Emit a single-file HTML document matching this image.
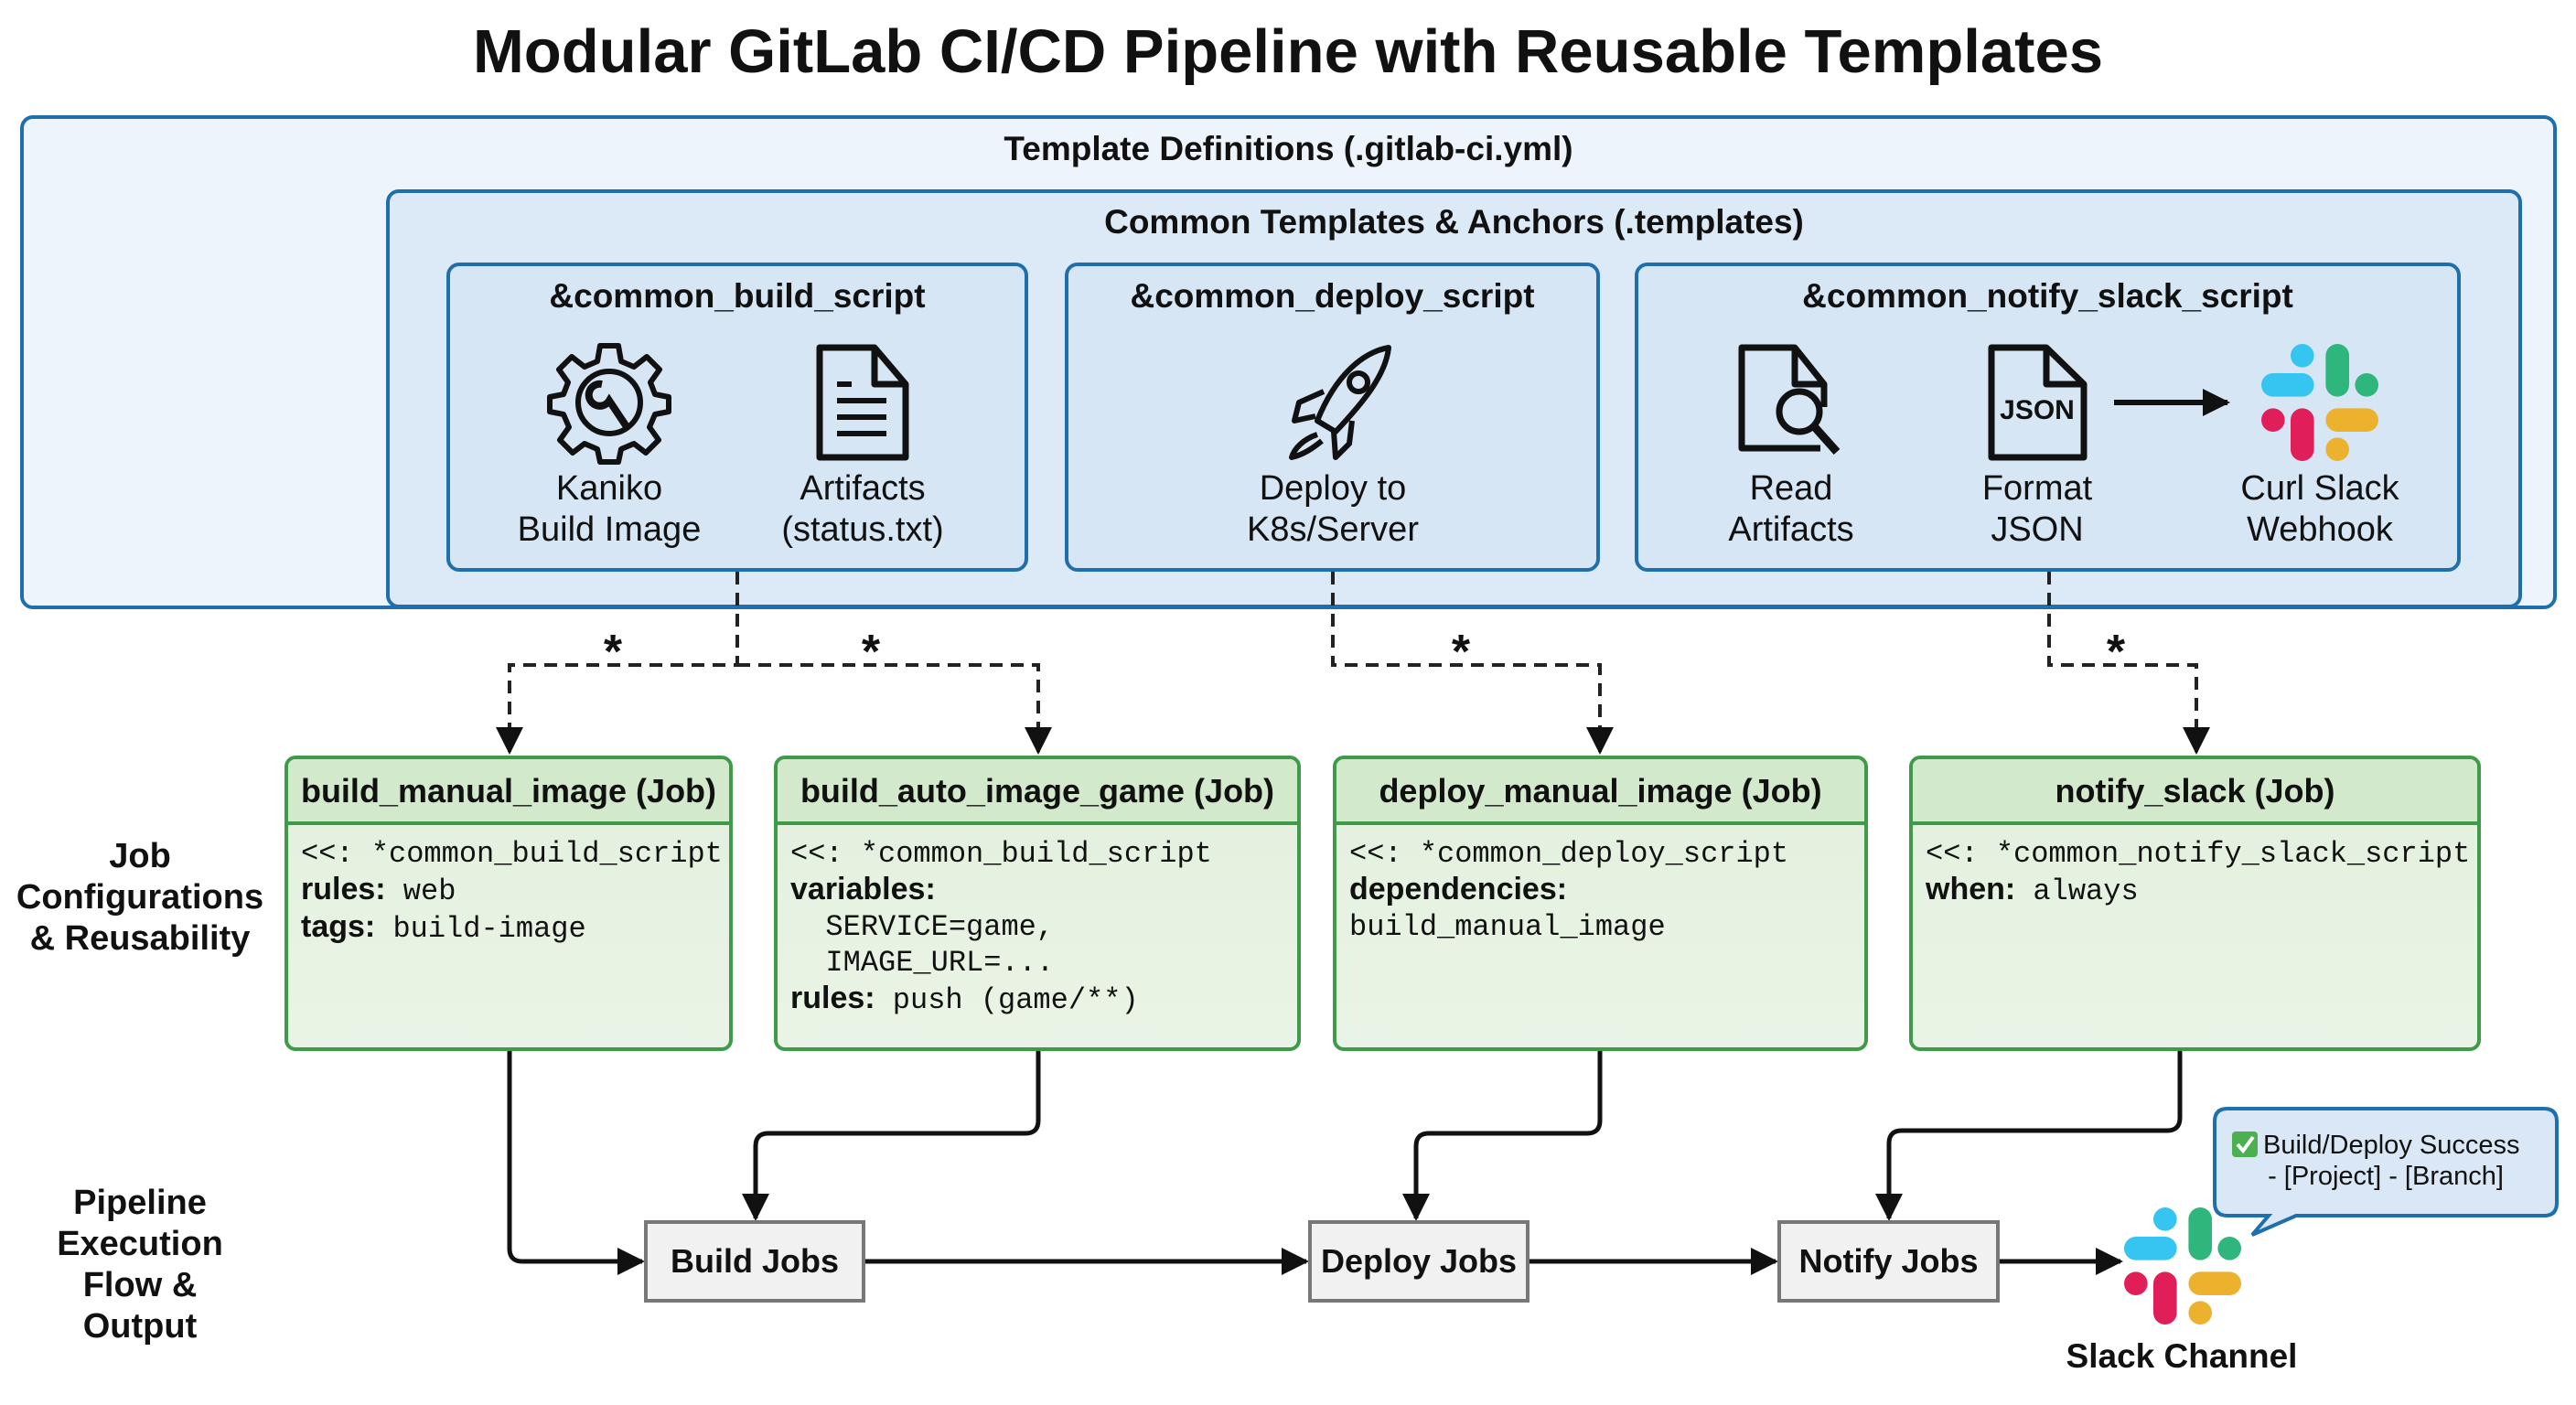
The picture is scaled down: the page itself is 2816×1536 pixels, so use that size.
<!DOCTYPE html>
<html><head><meta charset="utf-8"><style>
*{margin:0;padding:0;box-sizing:border-box}
body{width:2816px;height:1536px;background:#fff;position:relative;overflow:hidden;font-family:"Liberation Sans",sans-serif;color:#111}
.a{position:absolute}
.t{position:absolute;text-align:center;white-space:nowrap}
.b{font-weight:bold}
.box{position:absolute;border-radius:14px}
.job{position:absolute;border:4px solid #3f9a4a;border-radius:12px;background:linear-gradient(#e2f0dd,#eaf4e6);overflow:hidden}
.job .h{height:72px;background:#d3e9cc;border-bottom:4px solid #3f9a4a;font-weight:bold;font-size:36px;text-align:center;line-height:70px;white-space:nowrap}
.job .c{padding:12px 14px;font-family:"Liberation Mono",monospace;font-size:32px;line-height:39px;white-space:pre}
.job .c b{font-family:"Liberation Sans",sans-serif;font-size:34px}
.fl{position:absolute;height:90px;border:4px solid #777;background:#f1f1f1;font-weight:bold;font-size:36px;line-height:82px;text-align:center}
.lab{font-size:38px;line-height:45px}
</style></head><body>
<div class="t b" style="left:0;width:2816px;top:18px;font-size:67px">Modular GitLab CI/CD Pipeline with Reusable Templates</div>

<div class="box" style="left:22px;top:126px;width:2773px;height:540px;background:#eef4fb;border:4px solid #1f6fad"></div>
<div class="t b" style="left:22px;width:2773px;top:142px;font-size:37px">Template Definitions (.gitlab-ci.yml)</div>
<div class="box" style="left:422px;top:207px;width:2335px;height:458px;background:#dce9f6;border:4px solid #1f6fad"></div>
<div class="t b" style="left:422px;width:2335px;top:222px;font-size:37px">Common Templates &amp; Anchors (.templates)</div>

<div class="box" style="left:488px;top:287px;width:636px;height:338px;background:#d6e6f5;border:4px solid #1f6fad"></div>
<div class="box" style="left:1164px;top:287px;width:585px;height:338px;background:#d6e6f5;border:4px solid #1f6fad"></div>
<div class="box" style="left:1787px;top:287px;width:903px;height:338px;background:#d6e6f5;border:4px solid #1f6fad"></div>
<div class="t b" style="left:488px;width:636px;top:303px;font-size:37px">&amp;common_build_script</div>
<div class="t b" style="left:1164px;width:585px;top:303px;font-size:37px">&amp;common_deploy_script</div>
<div class="t b" style="left:1787px;width:903px;top:303px;font-size:37px">&amp;common_notify_slack_script</div>

<div class="t lab" style="left:516px;width:300px;top:512px">Kaniko<br>Build Image</div>
<div class="t lab" style="left:793px;width:300px;top:512px">Artifacts<br>(status.txt)</div>
<div class="t lab" style="left:1307px;width:300px;top:512px">Deploy to<br>K8s/Server</div>
<div class="t lab" style="left:1808px;width:300px;top:512px">Read<br>Artifacts</div>
<div class="t lab" style="left:2077px;width:300px;top:512px">Format<br>JSON</div>
<div class="t lab" style="left:2386px;width:300px;top:512px">Curl Slack<br>Webhook</div>

<svg class="a" style="left:0;top:0" width="2816" height="1536" viewBox="0 0 2816 1536">
<defs>
<marker id="am" viewBox="0 0 10 10" refX="9" refY="5" markerWidth="30" markerHeight="30" orient="auto" markerUnits="userSpaceOnUse"><path d="M0,0 L10,5 L0,10 z" fill="#111"/></marker>
<g id="slack">
<rect x="25" y="0" width="20" height="20" rx="10" fill="#36c5f0"/><rect x="0" y="25" width="45" height="20" rx="10" fill="#36c5f0"/>
<rect x="55" y="0" width="20" height="45" rx="10" fill="#2eb67d"/><rect x="80" y="25" width="20" height="20" rx="10" fill="#2eb67d"/>
<rect x="0" y="55" width="20" height="20" rx="10" fill="#e01e5a"/><rect x="25" y="55" width="20" height="45" rx="10" fill="#e01e5a"/>
<rect x="55" y="55" width="45" height="20" rx="10" fill="#ecb22e"/><rect x="55" y="80" width="20" height="20" rx="10" fill="#ecb22e"/>
</g>
</defs>
<g transform="translate(666,440)" fill="none" stroke="#111" stroke-width="6">
<path d="M-10,-62 L10,-62 L13,-45 L27,-39 L41,-50 L55,-36 L45,-22 L50,-9 L65,-6 L65,10 L50,13 L44,27 L54,41 L40,55 L27,45 L13,51 L10,65 L-10,65 L-13,51 L-27,45 L-40,55 L-54,41 L-44,27 L-50,13 L-65,10 L-65,-6 L-50,-9 L-45,-22 L-55,-36 L-41,-50 L-27,-39 L-13,-45 Z" stroke-linejoin="round"/>
<circle r="34"/><path d="M-8,-20 a12,12 0 1 0 8,18 l20,30" stroke-width="8"/>
</g>
<g fill="none" stroke="#111" stroke-width="7" stroke-linejoin="round">
<path d="M896,380 L956,380 L990,420 L990,500 L896,500 Z"/><path d="M956,380 L956,420 L990,420"/>
<path d="M915,420 h16 M915,438 h54 M915,456 h54 M915,474 h54" stroke-width="6"/>
</g>
<g fill="none" stroke="#111" stroke-width="6" stroke-linejoin="round">
<path d="M1518,380 C1490,385 1460,410 1440,460 L1460,472 C1490,440 1515,410 1518,380 Z"/>
<circle cx="1485" cy="418" r="10"/>
<path d="M1447,428 L1420,440 L1415,460 L1438,455"/>
<path d="M1478,460 L1475,485 L1460,500 L1458,472"/>
<path d="M1440,475 C1425,480 1415,490 1412,500 C1425,497 1435,490 1445,482"/>
</g>
<g fill="none" stroke="#111" stroke-width="7" stroke-linejoin="round">
<path d="M1990,490 L1904,490 L1904,380 L1962,380 L1994,420 L1994,445"/><path d="M1962,380 L1962,420 L1994,420"/>
<circle cx="1967" cy="450" r="22"/><path d="M1983,466 L2008,494" stroke-width="9"/>
</g>
<g fill="none" stroke="#111" stroke-width="7" stroke-linejoin="round">
<path d="M2177,380 L2237,380 L2278,420 L2278,500 L2177,500 Z"/><path d="M2237,380 L2237,420 L2278,420"/>
</g>
<text x="2227" y="458" font-family="Liberation Sans" font-size="30" font-weight="bold" text-anchor="middle" fill="#111">JSON</text>
<line x1="2311" y1="440" x2="2435" y2="440" stroke="#111" stroke-width="6" marker-end="url(#am)"/>
<use href="#slack" transform="translate(2472,376) scale(1.28)"/>

<g fill="none" stroke="#222" stroke-width="4" stroke-dasharray="14,9" marker-end="url(#am)">
<path d="M806,625 V727 H557 V822"/>
<path d="M806,727 H1135 V822"/>
<path d="M1457,625 V727 H1749 V822"/>
<path d="M2240,625 V727 H2401 V822"/>
</g>
<g font-family="Liberation Sans" font-size="52" font-weight="bold" fill="#111" text-anchor="middle">
<text x="670" y="730">*</text><text x="952" y="730">*</text><text x="1597" y="730">*</text><text x="2313" y="730">*</text>
</g>

<g fill="none" stroke="#111" stroke-width="5" marker-end="url(#am)" stroke-linejoin="round">
<path d="M557,1149 V1365 Q557,1379 571,1379 H702"/>
<path d="M1135,1149 V1225 Q1135,1239 1121,1239 H840 Q826,1239 826,1253 V1332"/>
<path d="M946,1379 H1428"/>
<path d="M1749,1149 V1225 Q1749,1239 1735,1239 H1562 Q1548,1239 1548,1253 V1332"/>
<path d="M1672,1379 H1941"/>
<path d="M2383,1149 V1222 Q2383,1236 2369,1236 H2079 Q2065,1236 2065,1250 V1332"/>
<path d="M2186,1379 H2318"/>
</g>
<use href="#slack" transform="translate(2322,1320) scale(1.28)"/>
<path d="M2435,1212 H2781 Q2795,1212 2795,1226 V1315 Q2795,1329 2781,1329 H2510 L2462,1350 L2480,1329 H2435 Q2421,1329 2421,1315 V1226 Q2421,1212 2435,1212 Z" fill="#d9e7f6" stroke="#1f6fad" stroke-width="4"/>
<rect x="2440" y="1237" width="28" height="28" rx="4" fill="#4caf50"/>
<path d="M2446,1251 l6,7 l11,-15" fill="none" stroke="#fff" stroke-width="4"/>
</svg>
<div class="t" style="left:2474px;top:1236px;font-size:29px">Build/Deploy Success</div>
<div class="t" style="left:2421px;width:374px;top:1270px;font-size:29px">- [Project] - [Branch]</div>
<div class="t b" style="left:2185px;width:400px;top:1462px;font-size:37px">Slack Channel</div>

<div class="job" style="left:311px;top:826px;width:490px;height:323px"><div class="h">build_manual_image (Job)</div><div class="c">&lt;&lt;: *common_build_script
<b>rules:</b> web
<b>tags:</b> build-image</div></div>
<div class="job" style="left:846px;top:826px;width:576px;height:323px"><div class="h">build_auto_image_game (Job)</div><div class="c">&lt;&lt;: *common_build_script
<b>variables:</b>
  SERVICE=game,
  IMAGE_URL=...
<b>rules:</b> push (game/**)</div></div>
<div class="job" style="left:1457px;top:826px;width:585px;height:323px"><div class="h">deploy_manual_image (Job)</div><div class="c">&lt;&lt;: *common_deploy_script
<b>dependencies:</b>
build_manual_image</div></div>
<div class="job" style="left:2087px;top:826px;width:625px;height:323px"><div class="h">notify_slack (Job)</div><div class="c">&lt;&lt;: *common_notify_slack_script
<b>when:</b> always</div></div>

<div class="t b lab" style="left:3px;width:300px;top:914px">Job<br>Configurations<br>&amp; Reusability</div>
<div class="t b lab" style="left:3px;width:300px;top:1293px">Pipeline<br>Execution<br>Flow &amp;<br>Output</div>

<div class="fl" style="left:704px;top:1334px;width:242px">Build Jobs</div>
<div class="fl" style="left:1430px;top:1334px;width:242px">Deploy Jobs</div>
<div class="fl" style="left:1943px;top:1334px;width:243px">Notify Jobs</div>
</body></html>
